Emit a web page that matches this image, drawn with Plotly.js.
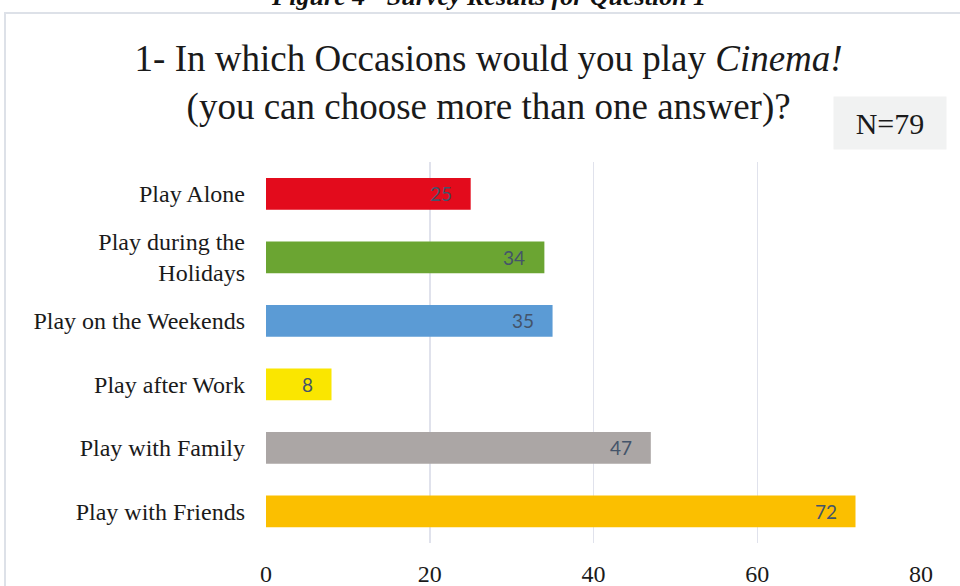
<!DOCTYPE html>
<html>
<head>
<meta charset="utf-8">
<script src="https://cdn.plot.ly/plotly-3.0.1.min.js"></script>
<style>
html,body{margin:0;padding:0;background:#fff;}
#chart{width:960px;height:586px;}
</style>
</head>
<body>
<div id="chart"></div>
<script>
const categories = ["Play Alone", "Play during the<br>Holidays", "Play on the Weekends", "Play after Work", "Play with Family", "Play with Friends"];
const counts = [25, 34, 35, 8, 47, 72];
const barColors = ["#e30b1c", "#6ba532", "#5b9bd5", "#fae600", "#aba6a5", "#fbbf00"];
const xTicks = [0, 20, 40, 60, 80];
const figureCaption = "Figure 4 - Survey Results for Question 1";
const chartTitle = "1- In which Occasions would you play <i>Cinema!</i><br>(you can choose more than one answer)?";
const sampleNote = "N=79";

const serif = "Liberation Serif, Times New Roman, serif";

const trace = {
  type: "bar",
  orientation: "h",
  x: counts,
  y: categories,
  width: 0.5,
  marker: {color: barColors, line: {width: 0}},
  hoverinfo: "none"
};

const labelAnnotations = counts.map((v, i) => ({
  x: v, y: categories[i], xref: "x", yref: "y",
  text: String(v), showarrow: false,
  xanchor: "right", yanchor: "middle", xshift: -17,
  font: {family: "Lato, Open Sans, sans-serif", size: 19, color: "#44546a"}
}));

const layout = {
  width: 960, height: 586,
  margin: {l: 266, r: 39, t: 162, b: 43},
  paper_bgcolor: "#ffffff",
  plot_bgcolor: "#ffffff",
  showlegend: false,
  title: {
    text: chartTitle,
    x: 0.509, xanchor: "center",
    y: 0.879, yanchor: "middle",
    font: {family: serif, size: 37, color: "#1a1a1a"}
  },
  xaxis: {
    range: [0, 80],
    tickvals: xTicks,
    ticktext: xTicks.map(String),
    showgrid: true, gridcolor: "#e0e2ec", gridwidth: 1.5,
    zeroline: false, showline: false,
    ticks: "", ticklabelstandoff: 14,
    tickfont: {family: serif, size: 24, color: "#1a1a1a"},
    fixedrange: true
  },
  yaxis: {
    type: "category",
    range: [5.5, -0.5],
    showgrid: false, zeroline: false, showline: false,
    ticks: "", ticklabelstandoff: 20,
    tickfont: {family: serif, size: 24, color: "#1a1a1a"},
    fixedrange: true
  },
  shapes: [{
    type: "rect", xref: "paper", yref: "paper",
    x0: (5 - 266) / 655, x1: (975 - 266) / 655,
    y0: (543 - 600) / 381, y1: (543 - 13) / 381,
    line: {color: "#dde1e8", width: 2}, fillcolor: "rgba(0,0,0,0)", layer: "below"
  }],
  annotations: labelAnnotations.concat([
    {
      text: "<b><i>" + figureCaption + "</i></b>",
      xref: "paper", yref: "paper",
      x: (488 - 266) / 655, y: (543 - 13) / 381,
      xanchor: "center", yanchor: "bottom", showarrow: false,
      font: {family: serif, size: 26, color: "#111"}
    },
    {
      text: sampleNote,
      xref: "paper", yref: "paper",
      x: (890 - 266) / 655, y: (543 - 123) / 381,
      xanchor: "center", yanchor: "middle", showarrow: false,
      width: 108, height: 48, bgcolor: "#f1f2f2", borderpad: 2,
      font: {family: serif, size: 30, color: "#1a1a1a"}
    }
  ])
};

Plotly.newPlot("chart", [trace], layout, {displayModeBar: false, staticPlot: true});
</script>
</body>
</html>
